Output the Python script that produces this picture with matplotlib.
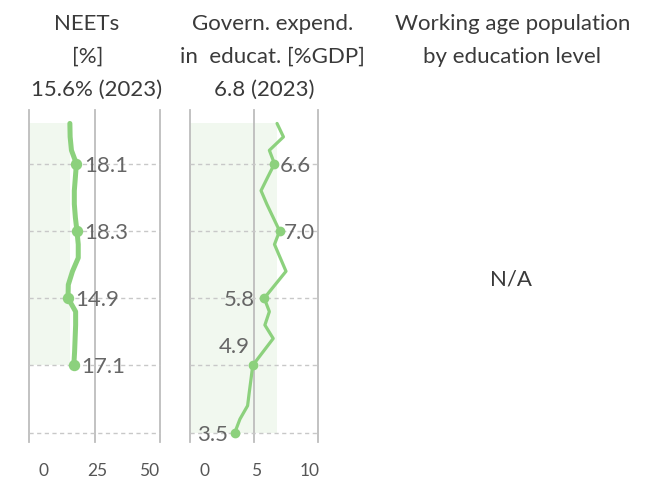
import matplotlib
matplotlib.use("Agg")
import matplotlib.pyplot as plt
import numpy as np

plt.rcParams['font.family'] = ['Lato', 'DejaVu Sans']

# ---------------- data ----------------
neet_years = list(range(2005, 2024))
neet_values = [17.1, 17.4, 17.6, 17.8, 17.8, 14.9, 15.0, 16.6, 18.8, 18.8,
               18.3, 17.7, 17.3, 17.3, 17.7, 18.1, 16.2, 15.7, 15.6]
neet_label_years = [2020, 2015, 2010, 2005]
neet_labels = ["18.1", "18.3", "14.9", "17.1"]

gov_years = list(range(2000, 2024))
gov_values = [3.5, 3.9, 4.5, 4.63, 4.77, 4.9, 5.7, 6.5, 5.85, 6.2, 5.8, 6.65,
              7.5, 7.05, 6.6, 7.0, 6.5, 6.0, 5.55, 6.07, 6.6, 6.2, 7.3, 6.8]
gov_label_years = [2020, 2015, 2010, 2005, 2000]
gov_labels = ["6.6", "7.0", "5.8", "4.9", "3.5"]

neet_ticks = [0, 25, 50]
gov_ticks = [0, 5, 10]
grid_years = [2000, 2005, 2010, 2015, 2020]

titles = [
    ["NEETs", "[%]", "15.6% (2023)"],
    ["Govern. expend.", "in  educat. [%GDP]", "6.8 (2023)"],
    ["Working age population", "by education level"],
]

# ---------------- style ----------------
W, H = 645, 479
GREEN = "#8cd17d"
SHADE = "#f1f8ef"
VLINE = "#bdbdbd"
HLINE = "#c8c8c8"
LABEL_C = "#666666"
TITLE_C = "#3a3a3a"
TICK_C = "#555555"

fig = plt.figure(figsize=(W / 100, H / 100), dpi=100)


def rect(x0, x1, y0, y1):
    return [x0 / W, 1 - y1 / H, (x1 - x0) / W, (y1 - y0) / H]


ax1 = fig.add_axes(rect(29, 160, 110, 442))
ax2 = fig.add_axes(rect(190, 318, 110, 442))

PX = 0.72  # points per pixel

panels = [
    dict(ax=ax1, years=neet_years, vals=neet_values, lyears=neet_label_years,
         labels=neet_labels, ticks=neet_ticks, lw=3.6, ms=7.2,
         offsets=[(7.5, 0, 'left'), (7.5, 0, 'left'), (7.5, 0, 'left'), (7.5, 0, 'left')],
         tickfrac=[0.108, 0.52, 0.915]),
    dict(ax=ax2, years=gov_years, vals=gov_values, lyears=gov_label_years,
         labels=gov_labels, ticks=gov_ticks, lw=2.3, ms=6.0,
         offsets=[(5, 0, 'left'), (4, 0, 'left'), (-9, 0, 'right'), (-3, 20, 'right'), (-7, 0, 'right')],
         tickfrac=[0.115, 0.515, 0.9375]),
]

for p in panels:
    ax = p["ax"]
    ticks = p["ticks"]
    ax.set_xlim(ticks[0], ticks[-1])
    ax.set_ylim(1999.3, 2024.0)
    ax.set_axis_off()
    yrs = np.array(p["years"])
    vals = np.array(p["vals"])
    # shading from axis start to latest value
    ax.fill_between([ticks[0], vals[-1]], yrs.min(), yrs.max(), color=SHADE, lw=0, zorder=0)
    # vertical grid lines
    for t in ticks:
        ax.axvline(t, color=VLINE, lw=1.3, zorder=1, clip_on=False)
    # horizontal dashed
    ax.hlines(grid_years, ticks[0], ticks[-1], colors=HLINE, lw=1.0,
              linestyles=(0, (3, 2.5)), zorder=1, clip_on=False)
    ax.plot(vals, yrs, color=GREEN, lw=p["lw"], solid_joinstyle='round',
            solid_capstyle='round', zorder=3, clip_on=False)
    lv = [vals[list(yrs).index(y)] for y in p["lyears"]]
    ax.plot(lv, p["lyears"], 'o', color=GREEN, ms=p["ms"], zorder=4, clip_on=False)
    for x, y, lab, (dx, dy, ha) in zip(lv, p["lyears"], p["labels"], p["offsets"]):
        ax.annotate(lab, (x, y), xytext=(dx * PX, dy * PX), textcoords='offset points',
                    ha=ha, va='center_baseline', fontsize=16, color=LABEL_C, zorder=5)
    for t, f in zip(ticks, p["tickfrac"]):
        ax.text(f, -0.088, str(t), transform=ax.transAxes, ha='center', va='center',
                fontsize=12.5, color=TICK_C)

# titles
title_pos = [
    [(87, 24), (87.5, 57), (97, 90)],
    [(273, 24), (272, 57), (264, 90)],
    [(513, 24), (512, 57)],
]
for lines, poss in zip(titles, title_pos):
    for txt, (x, y) in zip(lines, poss):
        fig.text(x / W, 1 - y / H, txt, ha='center', va='center', fontsize=16, color=TITLE_C)

fig.text(511 / W, 1 - 280 / H, "N/A", ha='center', va='center', fontsize=16, color=TITLE_C)

fig.savefig("out.png", dpi=100)
